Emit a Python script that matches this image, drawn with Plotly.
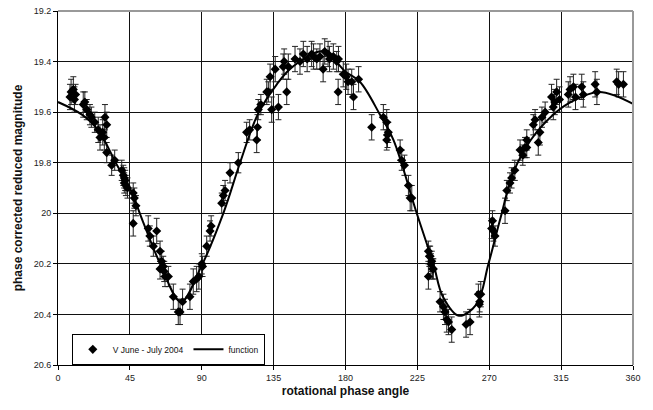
import plotly.graph_objects as go

# Observed V-band magnitudes (June - July 2004) versus rotational phase
ang = [7.5, 8.2, 9.6, 10.3, 11.0, 15.8, 16.8, 18.0, 20.0, 20.9, 23.0, 25.2, 26.3, 28.0, 29.0, 29.4, 30.5, 30.5, 33.6, 35.5,
       39.9, 40.9, 41.5, 42.1, 41.5, 42.5, 43.5, 47.1, 47.8, 47.1, 48.8, 56.5, 57.5, 59.7, 61.8, 63.9, 64.9, 65.9, 63.9, 66.5, 67.0, 69.1,
       72.2, 75.3, 76.4, 78.0, 82.6, 84.7, 86.8, 88.2, 90.0, 90.5,
       93.1, 95.2, 95.9, 102.5, 103.5, 104.6, 107.7, 112.9, 118.1, 120.0, 124.4, 124.9, 125.4, 127.0, 131.7, 133.8, 138.0, 143.2,
       132.8, 136.0, 141.6, 130.7, 141.0, 144.2, 148.4,
       151.5, 153.6, 156.0, 158.8, 160.0, 162.0, 164.0, 166.0, 167.0, 169.1, 170.0, 172.4, 174.5, 175.6, 175.4, 178.6, 180.5, 181.6,
       183.9, 185.0, 188.2, 196.4, 203.7, 205.8, 206.3,
       205.8, 206.8, 214.2, 215.2, 216.9, 219.4, 220.5, 221.5, 231.9, 231.9, 232.5, 233.0, 233.5, 234.0, 234.5, 235.0,
       239.2, 241.3, 242.3, 243.4, 244.5, 246.5, 255.5, 258.0, 263.2, 263.8, 264.7, 264.0,
       271.5, 272.6, 273.6, 272.0, 279.9, 281.0, 283.0, 284.0, 286.0, 289.3, 291.0, 292.4, 293.5, 293.5, 297.6, 298.7, 300.7, 301.7,
       303.0, 305.0,
       309.0, 310.1, 311.0, 312.2, 314.0, 319.5, 320.6, 322.7, 324.0, 327.9, 328.9, 336.3, 337.4, 349.8, 351.0, 354.0]

mag = [19.54, 19.52, 19.51, 19.55, 19.53, 19.57, 19.56, 19.59, 19.61, 19.62, 19.64, 19.67, 19.70, 19.68, 19.70, 19.62, 19.65, 19.76, 19.81, 19.79,
       19.83, 19.85, 19.86, 19.87, 19.88, 19.89, 19.90, 19.92, 19.94, 20.04, 19.97, 20.06, 20.09, 20.13, 20.07, 20.15, 20.19, 20.21, 20.22, 20.23, 20.25, 20.25,
       20.33, 20.39, 20.39, 20.35, 20.33, 20.27, 20.26, 20.25, 20.20, 20.21,
       20.13, 20.07, 20.05, 19.96, 19.93, 19.91, 19.84, 19.80, 19.68, 19.67, 19.71, 19.66, 19.59, 19.57, 19.52, 19.59, 19.58, 19.52,
       19.46, 19.43, 19.40, 19.52, 19.42, 19.42, 19.39,
       19.40, 19.37, 19.39, 19.37, 19.38, 19.39, 19.38, 19.43, 19.36, 19.37, 19.39, 19.38, 19.40, 19.39, 19.52, 19.45, 19.46, 19.48,
       19.48, 19.54, 19.47, 19.66, 19.62, 19.64, 19.69,
       19.71, 19.68, 19.75, 19.79, 19.81, 19.89, 19.94, 19.94, 20.15, 20.25, 20.17, 20.17, 20.20, 20.19, 20.22, 20.22,
       20.35, 20.37, 20.39, 20.42, 20.43, 20.46, 20.44, 20.43, 20.32, 20.36, 20.32, 20.35,
       20.06, 20.07, 20.09, 20.03, 19.99, 19.91, 19.88, 19.86, 19.83, 19.75, 19.77, 19.74, 19.71, 19.74, 19.65, 19.63, 19.72, 19.68,
       19.62, 19.60,
       19.54, 19.58, 19.56, 19.52, 19.55, 19.53, 19.51, 19.50, 19.54, 19.50, 19.53, 19.49, 19.52, 19.48, 19.49, 19.49]

err = [0.05, 0.05, 0.05, 0.05, 0.04, 0.05, 0.04, 0.04, 0.04, 0.04, 0.04, 0.05, 0.05, 0.05, 0.05, 0.05, 0.05, 0.04, 0.04, 0.04,
       0.04, 0.04, 0.04, 0.04, 0.04, 0.04, 0.04, 0.04, 0.04, 0.05, 0.04, 0.05, 0.04, 0.04, 0.05, 0.04, 0.04, 0.04, 0.04, 0.04, 0.04, 0.04,
       0.05, 0.05, 0.05, 0.05, 0.05, 0.05, 0.05, 0.05, 0.04, 0.04,
       0.04, 0.04, 0.04, 0.04, 0.04, 0.04, 0.04, 0.04, 0.04, 0.04, 0.05, 0.05, 0.04, 0.04, 0.04, 0.05, 0.05, 0.05,
       0.05, 0.05, 0.05, 0.05, 0.05, 0.05, 0.05,
       0.05, 0.05, 0.05, 0.05, 0.05, 0.04, 0.05, 0.05, 0.05, 0.05, 0.05, 0.05, 0.04, 0.05, 0.05, 0.05, 0.05, 0.05,
       0.05, 0.05, 0.05, 0.05, 0.05, 0.05, 0.05,
       0.04, 0.04, 0.04, 0.04, 0.04, 0.04, 0.05, 0.05, 0.04, 0.05, 0.04, 0.04, 0.04, 0.04, 0.04, 0.04,
       0.04, 0.05, 0.05, 0.05, 0.05, 0.05, 0.05, 0.05, 0.04, 0.05, 0.05, 0.04,
       0.04, 0.04, 0.04, 0.04, 0.05, 0.04, 0.04, 0.04, 0.04, 0.04, 0.04, 0.04, 0.04, 0.04, 0.04, 0.04, 0.05, 0.05,
       0.04, 0.04,
       0.05, 0.05, 0.05, 0.05, 0.05, 0.05, 0.05, 0.05, 0.05, 0.05, 0.05, 0.05, 0.05, 0.05, 0.05, 0.05]

# Fitted lightcurve, sampled at knots along the curve
fit_ang = [0, 15, 25, 37, 45, 53, 64, 77, 89, 103.5, 114, 125, 137, 147, 166, 180, 189, 201.6, 210,
           224.6, 235, 241, 251, 262, 269.5, 277, 285, 296, 310, 321, 339, 360]
fit_mag = [19.56, 19.61, 19.67, 19.81, 19.90, 20.03, 20.20, 20.35, 20.22, 20.00, 19.80, 19.61, 19.49, 19.42, 19.36, 19.44, 19.48, 19.61, 19.71,
           20.00, 20.20, 20.33, 20.405, 20.36, 20.20, 20.02, 19.84, 19.71, 19.61, 19.56, 19.52, 19.567]

x_ticks = [0, 45, 90, 135, 180, 225, 270, 315, 360]
y_ticks = [19.2, 19.4, 19.6, 19.8, 20.0, 20.2, 20.4, 20.6]
y_labels = ["19.2", "19.4", "19.6", "19.8", "20", "20.2", "20.4", "20.6"]

FONT = "Liberation Sans, Arial, sans-serif"

fig = go.Figure()
fig.add_trace(go.Scatter(
    x=ang, y=mag, mode="markers", name="V June - July 2004",
    marker=dict(symbol="diamond", size=7, color="black"),
    error_y=dict(type="data", array=err, visible=True, color="#222", thickness=1, width=3),
))
fig.add_trace(go.Scatter(
    x=fit_ang, y=fit_mag, mode="lines", name="function",
    line=dict(color="black", width=2, shape="spline", smoothing=1.0),
))

fig.update_layout(
    width=653, height=410,
    margin=dict(l=58, r=20, t=6, b=45),
    paper_bgcolor="white", plot_bgcolor="white",
    font=dict(family=FONT, size=9, color="#222"),
    showlegend=True,
    legend=dict(
        orientation="h", x=0.024, y=0.088, xanchor="left", yanchor="top",
        bgcolor="white", bordercolor="black", borderwidth=1,
        font=dict(size=8.5, family=FONT, color="#111"),
        itemwidth=30, tracegroupgap=0,
    ),
    xaxis=dict(
        range=[0, 360], tickvals=x_ticks, ticktext=[str(v) for v in x_ticks],
        showgrid=True, gridcolor="#111", gridwidth=1,
        showline=True, linecolor="black", linewidth=1, mirror=False,
        ticks="outside", ticklen=4, tickcolor="black",
        zeroline=False,
        title=dict(text="<b>rotational phase angle</b>", font=dict(size=12, family=FONT, color="#111"), standoff=4),
    ),
    yaxis=dict(
        range=[20.6, 19.2], tickvals=y_ticks, ticktext=y_labels,
        showgrid=True, gridcolor="#111", gridwidth=1,
        showline=True, linecolor="black", linewidth=1,
        ticks="outside", ticklen=4, tickcolor="black",
        zeroline=False,
        title=dict(text="<b>phase corrected reduced magnitude</b>", font=dict(size=12, family=FONT, color="#111"), standoff=8),
    ),
)

# gray frame on the top and right edges of the plotting area
fig.add_shape(type="line", xref="paper", yref="paper", x0=0, x1=1, y0=1, y1=1, line=dict(color="#999", width=2))
fig.add_shape(type="line", xref="paper", yref="paper", x0=1, x1=1, y0=0, y1=1, line=dict(color="#999", width=2))

fig.write_html("out.html")
